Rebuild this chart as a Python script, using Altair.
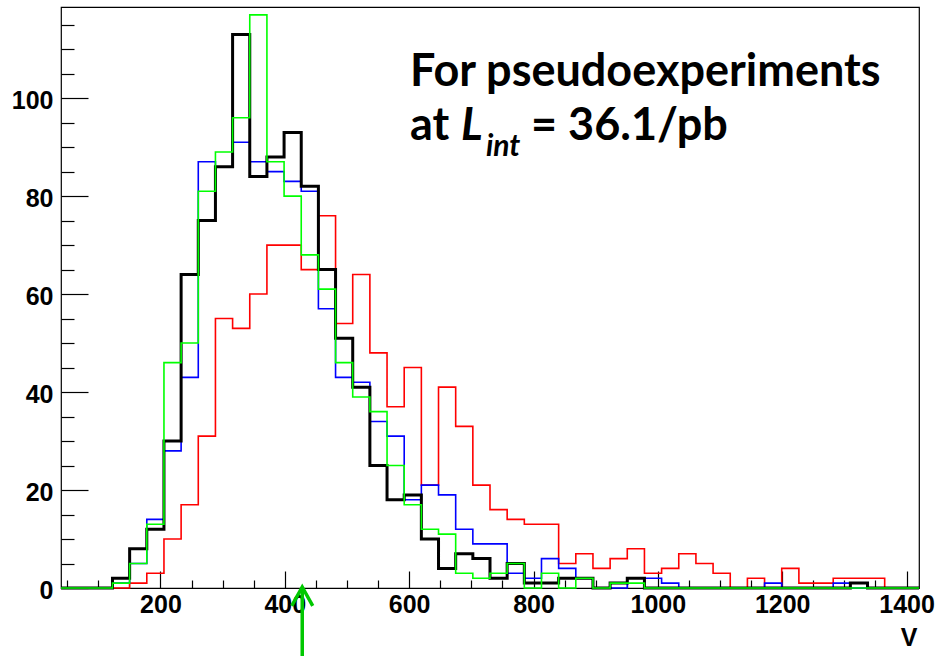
import altair as alt
import pandas as pd

# ---- histogram layout (50 bins) ----
X_MIN, X_MAX, N_BINS = 40.0, 1420.0, 50
BIN_W = (X_MAX - X_MIN) / N_BINS
edges = [X_MIN + BIN_W * i for i in range(N_BINS + 1)]

# ---- counts per bin ----
black_counts = [0, 0, 0, 2, 8, 12, 30, 64, 75, 86,
                113, 84, 88, 93, 82, 65, 51, 41, 25, 18,
                19, 10, 4, 7, 6, 2, 5, 1, 1, 2,
                2, 0, 1, 2, 0, 0, 0, 0, 0, 0,
                0, 0, 0, 0, 0, 0, 1, 0, 0, 0]
blue_counts = [0, 0, 0, 1, 5, 14, 28, 43, 87, 86,
               91, 87, 85, 83, 81, 57, 43, 42, 34, 31,
               18, 21, 19, 12, 9, 9, 3, 2, 6, 4,
               2, 0, 0, 2, 2, 1, 0, 0, 0, 0,
               0, 1, 0, 0, 0, 1, 0, 0, 0, 0]
green_counts = [0, 0, 0, 1, 5, 13, 46, 50, 81, 89,
                96, 117, 87, 80, 68, 61, 46, 39, 36, 25,
                17, 12, 11, 3, 2, 3, 5, 0, 3, 0,
                2, 0, 1, 1, 0, 0, 0, 0, 0, 0,
                0, 0, 0, 0, 0, 0, 0, 0, 0, 0]
red_counts = [0, 0, 0, 0, 1, 3, 10, 17, 31, 55,
              53, 60, 70, 70, 65, 76, 54, 64, 48, 37,
              45, 21, 41, 33, 21, 16, 14, 13, 13, 5,
              7, 4, 6, 8, 3, 4, 7, 5, 3, 0,
              2, 0, 4, 1, 1, 2, 2, 2, 0, 0]

x_major = [200, 400, 600, 800, 1000, 1200, 1400]
x_minor = [v for v in range(50, 1400, 50) if v % 200 != 0]
y_major = [0, 20, 40, 60, 80, 100]
y_minor = [v for v in range(5, 120, 5) if v % 20 != 0]
ARROW_V = 428

W, H = 858, 581
LABEL_FONT = "Liberation Sans"
TEXT_FONT = "Lato"

xs = alt.Scale(domain=[X_MIN, X_MAX], nice=False, zero=False)
ys = alt.Scale(domain=[0, 118.6], nice=False, zero=True)


def series_df(counts):
    return pd.DataFrame({"V": edges, "count": list(counts) + [counts[-1]]})


def hist_layer(counts, color, width):
    return alt.Chart(series_df(counts)).mark_line(
        interpolate="step-after", color=color, strokeWidth=width, strokeJoin="miter"
    ).encode(
        x=alt.X("V:Q", scale=xs, axis=None),
        y=alt.Y("count:Q", scale=ys, axis=None),
    )


base_df = series_df(black_counts)

label_layer = alt.Chart(base_df).mark_point(opacity=0).encode(
    x=alt.X("V:Q", scale=xs, axis=alt.Axis(
        orient="bottom", values=x_major, format="d", ticks=False, tickSize=0, domain=False,
        grid=False, labelFont=LABEL_FONT, labelFontSize=25, labelFontWeight="bold",
        labelColor="black", labelPadding=4, labelFlush=False, labelOverlap=False,
        title="V", titleFont=LABEL_FONT, titleFontSize=25, titleFontWeight="bold",
        titleColor="black", titleX=856, titleY=57, titleAlign="right",
        titleBaseline="alphabetic")),
    y=alt.Y("count:Q", scale=ys, axis=alt.Axis(
        orient="left", values=y_major, format="d", ticks=False, tickSize=0, domain=False,
        grid=False, labelFont=LABEL_FONT, labelFontSize=25, labelFontWeight="bold",
        labelColor="black", labelPadding=8, labelOffset=2, labelFlush=False,
        labelOverlap=False, title=None)),
)

major_layer = alt.Chart(base_df).mark_point(opacity=0).encode(
    x=alt.X("V:Q", scale=xs, axis=alt.Axis(
        orient="top", offset=-H, values=x_major, labels=False, domain=False, grid=False,
        tickSize=17, tickColor="black", tickWidth=1.2, title=None)),
    y=alt.Y("count:Q", scale=ys, axis=alt.Axis(
        orient="right", offset=-W, values=y_major, labels=False, domain=False, grid=False,
        tickSize=27, tickColor="black", tickWidth=1.2, title=None)),
)

minor_layer = alt.Chart(base_df).mark_point(opacity=0).encode(
    x=alt.X("V:Q", scale=xs, axis=alt.Axis(
        orient="top", offset=-H, values=x_minor, labels=False, domain=False, grid=False,
        tickSize=8, tickColor="black", tickWidth=1.2, title=None)),
    y=alt.Y("count:Q", scale=ys, axis=alt.Axis(
        orient="right", offset=-W, values=y_minor, labels=False, domain=False, grid=False,
        tickSize=13, tickColor="black", tickWidth=1.2, title=None)),
)

arrow_df = pd.DataFrame({"V": [ARROW_V]})
arrow_shaft = alt.Chart(arrow_df).mark_rule(color="#00c800", strokeWidth=3.5).encode(
    x=alt.X("V:Q", scale=xs, axis=None),
    y=alt.value(581),
    y2=alt.value(649),
)
arrow_head = alt.Chart(arrow_df).mark_point(
    shape="M-1,1.8L0,0L1,1.8", size=441, filled=False, color="#00c800",
    strokeWidth=3.5, opacity=1, strokeJoin="miter"
).encode(
    x=alt.X("V:Q", scale=xs, axis=None),
    y=alt.value(580),
)


def text_layer(txt, x, y, size, italic=False):
    kw = dict(text=txt, font=TEXT_FONT, fontSize=size, fontWeight="bold",
              color="black", align="left", baseline="alphabetic")
    if italic:
        kw["fontStyle"] = "italic"
    return alt.Chart(alt.Data(values=[{}])).mark_text(**kw).encode(
        x=alt.value(x), y=alt.value(y))


texts = [
    text_layer("For pseudoexperiments", 349, 79, 45),
    text_layer("at", 349, 133, 45),
    text_layer("L", 400, 133, 45, italic=True),
    text_layer("int", 425, 149, 30, italic=True),
    text_layer("= 36.1/pb", 470, 133, 45),
]

chart = alt.layer(
    label_layer, major_layer, minor_layer,
    hist_layer(red_counts, "#ff0000", 1.6),
    hist_layer(blue_counts, "#0000ff", 1.6),
    hist_layer(black_counts, "#000000", 3),
    hist_layer(green_counts, "#00ff00", 1.6),
    arrow_shaft, arrow_head,
    *texts,
).resolve_axis(x="independent", y="independent").properties(
    width=W, height=H,
    autosize=alt.AutoSizeParams(type="none"),
    padding={"left": 61, "top": 7, "right": 19, "bottom": 68},
    background="white",
).configure_view(stroke="black", strokeWidth=1.2)

chart.save("out.html", embed_options={"renderer": "svg", "actions": False})
